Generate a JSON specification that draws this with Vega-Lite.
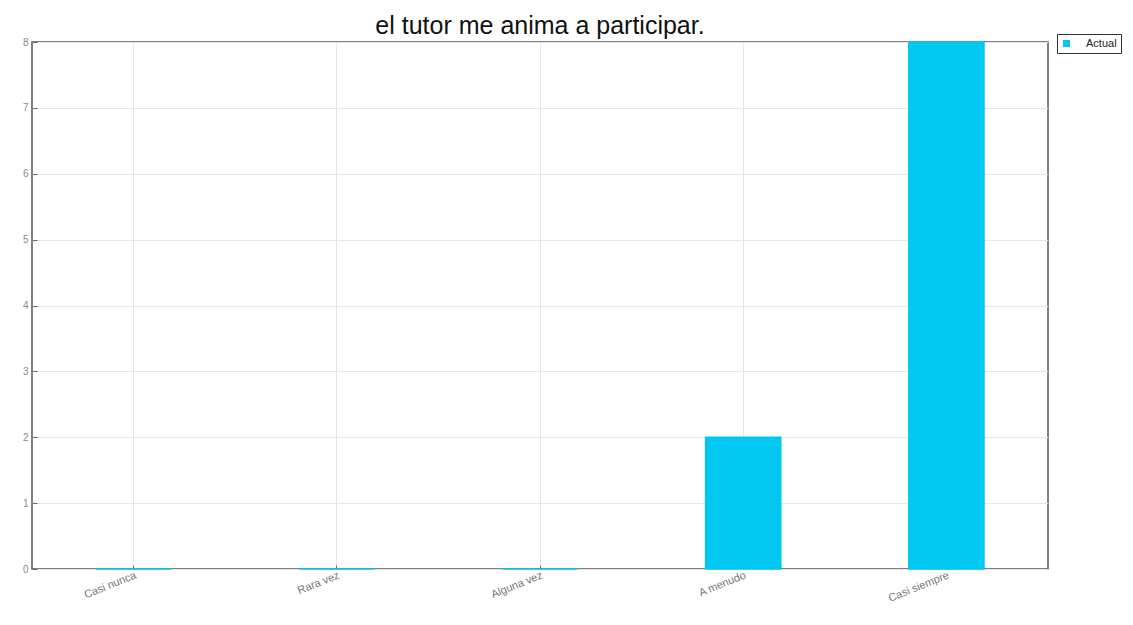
{
  "$schema": "https://vega.github.io/schema/vega-lite/v6.json",
  "autosize": "none",
  "width": 1016,
  "height": 527,
  "padding": {"left": 32, "top": 42, "right": 85, "bottom": 56},
  "background": "white",
  "title": {
    "text": "el tutor me anima a participar.",
    "font": "Liberation Sans",
    "fontSize": 25,
    "fontWeight": "normal",
    "color": "#111111",
    "anchor": "middle",
    "offset": -5
  },
  "config": {
    "view": {"stroke": "#555555", "strokeWidth": 1.5},
    "font": "Liberation Sans"
  },
  "data": {
    "values": [
      {"respuesta": "Casi nunca", "serie": "Actual", "valor": 0},
      {"respuesta": "Rara vez", "serie": "Actual", "valor": 0},
      {"respuesta": "Alguna vez", "serie": "Actual", "valor": 0},
      {"respuesta": "A menudo", "serie": "Actual", "valor": 2},
      {"respuesta": "Casi siempre", "serie": "Actual", "valor": 8}
    ]
  },
  "mark": {"type": "bar", "stroke": "#00c8f0", "strokeWidth": 1.5},
  "encoding": {
    "x": {
      "field": "respuesta",
      "type": "nominal",
      "sort": null,
      "scale": {"paddingInner": 0.63, "paddingOuter": 0.315},
      "axis": {
        "title": null,
        "labelAngle": -22,
        "labelFontSize": 11,
        "labelColor": "#777777",
        "labelAlign": "right",
        "labelBaseline": "top",
        "labelPadding": 4,
        "grid": true,
        "gridColor": "#e6e6e6",
        "domain": false,
        "ticks": true,
        "tickSize": -4,
        "tickColor": "#666666"
      }
    },
    "y": {
      "field": "valor",
      "type": "quantitative",
      "scale": {"domain": [0, 8], "nice": false},
      "axis": {
        "title": null,
        "values": [0, 1, 2, 3, 4, 5, 6, 7, 8],
        "labelFontSize": 10,
        "labelColor": "#888888",
        "labelPadding": 9,
        "grid": true,
        "gridColor": "#e6e6e6",
        "domain": false,
        "ticks": true,
        "tickSize": -5,
        "tickColor": "#666666"
      }
    },
    "color": {
      "field": "serie",
      "type": "nominal",
      "scale": {"range": ["#00c8f0"]},
      "legend": {
        "title": null,
        "orient": "none",
        "legendX": 1025,
        "legendY": -8,
        "symbolType": "square",
        "symbolSize": 50,
        "symbolStrokeWidth": 0,
        "labelFontSize": 11,
        "labelOffset": 14,
        "labelColor": "#222222",
        "strokeColor": "#333333",
        "padding": 4,
        "fillColor": "white"
      }
    }
  }
}
